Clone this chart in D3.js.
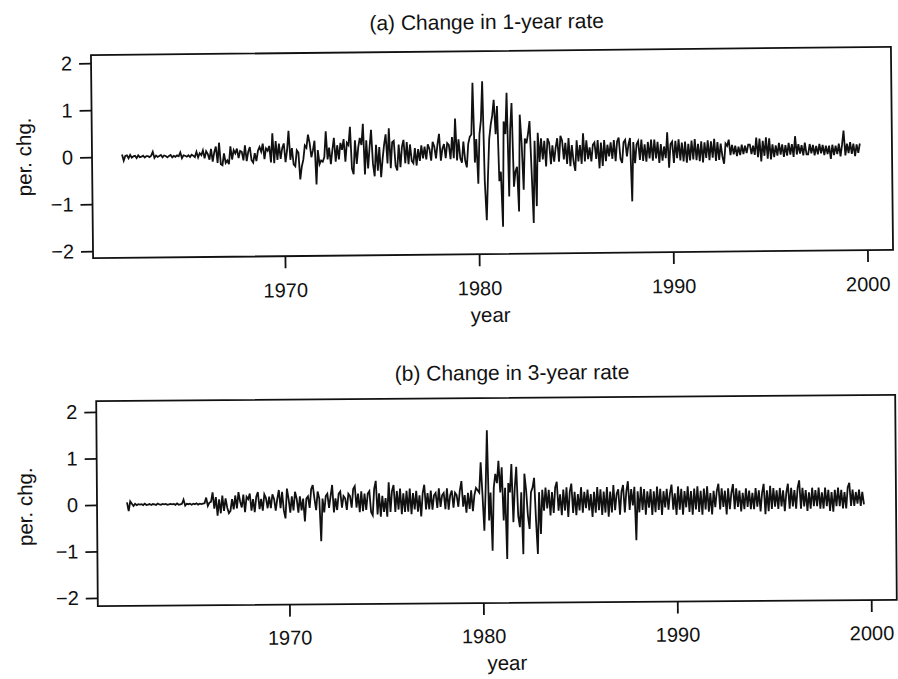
<!DOCTYPE html>
<html><head><meta charset="utf-8">
<script src="https://cdn.jsdelivr.net/npm/d3@7"></script>
<style>
body{margin:0;background:#fff}
svg text{font-family:"Liberation Sans",Arial,sans-serif;fill:#111}
</style>
</head><body>
<svg id="chart" width="898" height="679"></svg>
<script>
// ---- data (monthly changes, basis points), Sep 1961 .. Sep 1999 ----
const startYear = 1961, startMonth = 9;
const xTickYears = [1970, 1980, 1990, 2000];
const yTickValues = [-2, -1, 0, 1, 2];
const panelTitles = ["(a) Change in 1-year rate", "(b) Change in 3-year rate"];
const xAxisLabel = "year";
const yAxisLabel = "per. chg.";

const chg1yr_1961_1969 = [
  5, -8, 2, 3,
  -3, 4, -2, 1, 2, -3, 3, -1, 0, 2, -2, 1,
  1, -1, 2, 10, -3, 2, -1, 1, 3, -2, 2, 1,
  -2, 1, 3, -2, 1, -1, 2, 0, 8, -4, 2, 1,
  -1, 2, -2, 3, 1, -2, 9, -3, 6, 2, 12, -5,
  10, 4, -8, 15, -12, 8, 20, -15, 28, -18, -20, 5,
  -15, -10, -18, 20, -8, 12, 5, 15, -5, 10, 8, -10,
  22, -12, 8, 18, -10, -15, 5, -12, 10, 18, 8, 25,
  -8, 15, 10, 20, -15, 47, -17, 30, -10, 25, -8, 15
];
const chg1yr_1970_1979 = [
  25, -15, 10, 52, -10, 15, -20, -24, 10, 5, -52, -25,
  -10, 20, 15, 43, 25, -5, 10, 30, -63, 10, -20, -12,
  -15, -5, 50, -10, 15, -20, 10, 36, -15, 20, -10, 25,
  10, 33, -15, 25, 20, 59, -30, -42, 30, -20, 15, 35,
  20, 65, -43, 30, -30, 15, 52, -20, -47, 20, -35, 15,
  -49, -10, 20, 42, -20, 55, -30, 25, 28, -25, -35, 20,
  -28, 15, 30, -20, 25, -22, 20, -15, -20, 12, -25, 10,
  -15, 18, -10, 15, -12, 20, 10, -15, 25, 15, -10, 20,
  42, -15, 10, 20, -10, 22, 18, -12, 35, -10, 74, -15,
  30, -10, -20, 25, -15, -30, 20, 35, 40, 150, -20, 30
];
const chg1yr_1980_1989 = [
  -65, 40, 70, 153, -60, -143, -50, 30, 60, 80, 113, 40,
  100, -60, -40, -157, 67, 40, 128, -93, 50, 106, -72, -40,
  -30, -125, 81, 20, -79, 30, 20, 40, 67, -40, -150, 25,
  -114, 42, -20, 30, -15, 25, -30, 30, 20, -25, 15, -20,
  10, 30, -20, 35, 25, -15, 20, -25, 30, -30, 15, -20,
  -40, 25, -20, 15, -25, 40, -20, 25, -15, 10, -20, 15,
  20, -15, 25, -35, 20, -30, 25, -20, 15, -10, 20, -15,
  25, -20, 22, 30, -15, -24, 20, 25, -10, 15, 29, -106,
  20, -25, 15, 22, -18, 25, -20, 15, -22, 20, -15, 25,
  -20, 25, -15, 20, -25, 15, -20, 10, -15, 40, -35, 15
];
const chg1yr_1990_1999 = [
  20, -25, 22, -15, 25, -20, 18, -22, 20, -25, 15, -20,
  22, -18, 25, -20, 15, -22, 20, -25, 18, -15, 22, -20,
  20, -15, 25, -22, 18, -20, 15, -12, -28, 15, 10, 23,
  -10, 12, -8, 10, -12, 8, -10, 12, -8, 10, -6, 12,
  12, -8, 10, -10, 27, -15, 25, -24, 20, -12, 27, -18,
  25, -20, 12, -15, 10, -12, 15, -10, 12, -15, 10, -12,
  15, -10, 12, -15, 29, -10, 12, -8, 10, -12, 15, -10,
  -10, 12, -8, 10, -12, 8, -10, 12, -8, 10, -12, 8,
  -10, 8, -20, 10, -12, 8, -10, 12, -15, 10, 40, -13,
  12, -8, 15, -10, 12, -15, 10, -8, 12
];

const chg3yr_1961_1969 = [
  5, -14, 7, 2,
  -3, 2, -1, 1, 0, 1, -1, 2, -1, 0, 1, -1,
  1, 0, -1, 2, 0, -1, 1, 0, 1, -1, 0, 1,
  0, 1, -1, 2, -1, 0, 1, 10, -3, 1, 0, 1,
  -1, 1, 0, 2, -1, 1, 0, 1, 2, 14, -4, 3,
  5, 25, -10, 15, -25, 10, -20, 18, -15, 12, -8, -20,
  -15, 10, -12, 18, -10, 25, 5, -8, 20, -18, 15, 10,
  22, -15, 10, -18, 15, 25, -12, 10, -15, 20, 12, -10,
  15, -10, 20, 10, -15, 10, 29, -10, 25, -15, -32, 32
];
const chg3yr_1970_1979 = [
  10, -20, 15, -15, 25, 10, -20, 15, -15, 10, -39, 10,
  15, -10, 30, 39, 10, -15, 25, 10, -82, 10, -20, 15,
  20, -10, 15, 39, -20, 10, -15, 20, 25, -10, 15, 10,
  -15, 20, 15, -10, 30, 36, -10, 20, -20, 25, -18, 20,
  -15, 20, 25, -20, -27, 30, 47, -25, 20, -30, 15, -20,
  10, -30, 44, -20, 25, 38, -20, 25, -15, 30, -25, 20,
  -20, 25, -20, 30, -25, 20, -15, 25, -20, 15, -30, 20,
  38, -15, 20, -15, 25, -16, 15, 20, -12, 30, -10, 15,
  20, -15, 30, -16, 15, 25, -12, 20, 15, -10, 25, 45,
  -10, 15, -23, 20, -15, 25, -20, 15, 30, 25, 20, 85
];
const chg3yr_1980_1989 = [
  15, -62, 30, 154, -40, 20, -105, 30, 60, 40, 88, 20,
  74, -40, 30, -123, 40, 20, 81, -44, 30, 75, -30, -55,
  20, -113, 60, 25, -30, -59, 20, 30, 51, -40, -113, 20,
  -70, 25, -20, 30, -15, 25, -30, 20, -25, 30, 42, -20,
  15, -30, 25, -20, 30, -34, 20, 38, -25, 20, -30, 15,
  -20, 30, -25, 20, -15, 25, -20, 15, -34, 20, -25, 30,
  -20, 25, -30, 20, -25, 30, -34, 20, -25, 34, -20, 15,
  25, -30, 20, 34, -25, 20, 42, -20, 25, -10, 30, -85,
  20, -25, 30, -20, 25, -30, 20, -15, 25, -31, 20, -25,
  30, -20, 25, -31, 20, -15, 25, -20, 15, 34, -20, 15
];
const chg3yr_1990_1999 = [
  -31, 30, -20, 25, -31, 20, -15, 30, -25, 20, -31, 25,
  -20, 30, -25, 20, -31, 25, -20, 30, -25, 15, -31, 20,
  -15, 20, 35, -20, 25, -15, 20, -31, 25, -20, 15, 34,
  -20, 25, -15, 20, -25, 15, -20, 25, -15, 20, -20, 15,
  -20, 25, -15, 20, -25, 15, 34, -31, 20, -25, 30, -20,
  25, -15, 20, -20, 25, -15, 20, -25, 15, 34, -20, 25,
  -15, 20, -20, 25, 41, -20, 25, -15, 20, -25, 15, -20,
  25, -15, 20, -15, 25, -20, 15, -20, 25, -15, 20, -25,
  15, -27, 20, -15, 25, -15, 20, -20, 15, -20, 25, 35,
  -15, 20, -15, 15, -10, 20, -15, 15, -12
];

const series1 = [].concat(chg1yr_1961_1969, chg1yr_1970_1979, chg1yr_1980_1989, chg1yr_1990_1999);
const series3 = [].concat(chg3yr_1961_1969, chg3yr_1970_1979, chg3yr_1980_1989, chg3yr_1990_1999);

function toPoints(bp) {
  return bp.map((v, i) => ({ t: startYear + (startMonth - 1 + i) / 12, v: v / 100 }));
}

// ---- layout ----
const FONT = "Liberation Sans, Arial, sans-serif";
const tickFont = 20, labelFont = 20.5, titleFont = 21;
const panels = [
  { data: toPoints(series1), title: panelTitles[0],
    left: 92, right: 892, top: 51, bottom: 254, yLo: 247, yHi: 59,
    rot: -0.6, titleX: 488, titleY: 29, xlabX: 489, xlabY: 322, ylabX: 24, ylabY: 152, tickLabY: 295 },
  { data: toPoints(series3), title: panelTitles[1],
    left: 97, right: 896, top: 398, bottom: 603, yLo: 594.8, yHi: 408.8,
    rot: -0.45, titleX: 513, titleY: 380, xlabX: 506, xlabY: 670, ylabX: 25, ylabY: 503, tickLabY: 643 }
];

const svg = d3.select("#chart");
const xDomain = [1960.12, 2001.32];

panels.forEach(p => {
  const cx = (p.left + p.right) / 2, cy = (p.top + p.bottom) / 2;
  const g = svg.append("g").attr("transform", `rotate(${p.rot},${cx},${cy})`);
  const x = d3.scaleLinear().domain(xDomain).range([p.left, p.right]);
  const y = d3.scaleLinear().domain([-2, 2]).range([p.yLo, p.yHi]);

  // frame
  g.append("rect").attr("x", p.left).attr("y", p.top)
    .attr("width", p.right - p.left).attr("height", p.bottom - p.top)
    .attr("fill", "none").attr("stroke", "#111").attr("stroke-width", 1.8);

  // y axis
  const yAxis = d3.axisLeft(y).tickValues(yTickValues).tickSize(12).tickPadding(7)
    .tickFormat(d => d < 0 ? "\u2212" + Math.abs(d) : String(d));
  const ya = g.append("g").attr("transform", `translate(${p.left},0)`).call(yAxis);
  ya.select(".domain").remove();
  ya.selectAll(".tick line").attr("stroke", "#111").attr("stroke-width", 1.8);
  ya.selectAll(".tick text").attr("font-size", tickFont).attr("font-family", FONT).attr("fill", "#111");

  // x axis
  const xAxis = d3.axisBottom(x).tickValues(xTickYears).tickSize(12)
    .tickPadding(p.tickLabY - p.bottom - 12 - 0.71 * tickFont).tickFormat(d3.format("d"));
  const xa = g.append("g").attr("transform", `translate(0,${p.bottom})`).call(xAxis);
  xa.select(".domain").remove();
  xa.selectAll(".tick line").attr("stroke", "#111").attr("stroke-width", 1.8);
  xa.selectAll(".tick text").attr("font-size", tickFont).attr("font-family", FONT).attr("fill", "#111");

  // series line
  const line = d3.line().x(d => x(d.t)).y(d => y(d.v));
  g.append("path").datum(p.data).attr("d", line)
    .attr("fill", "none").attr("stroke", "#111").attr("stroke-width", 1.8)
    .attr("stroke-linejoin", "miter");

  // labels
  g.append("text").attr("x", p.titleX).attr("y", p.titleY).attr("text-anchor", "middle")
    .attr("font-size", titleFont).text(p.title);
  g.append("text").attr("x", p.xlabX).attr("y", p.xlabY).attr("text-anchor", "middle")
    .attr("font-size", labelFont).text(xAxisLabel);
  g.append("text").attr("transform", `translate(${p.ylabX},${p.ylabY}) rotate(-90)`)
    .attr("text-anchor", "middle").attr("dy", "0.35em").attr("font-size", labelFont).text(yAxisLabel);
});
</script>
</body></html>
